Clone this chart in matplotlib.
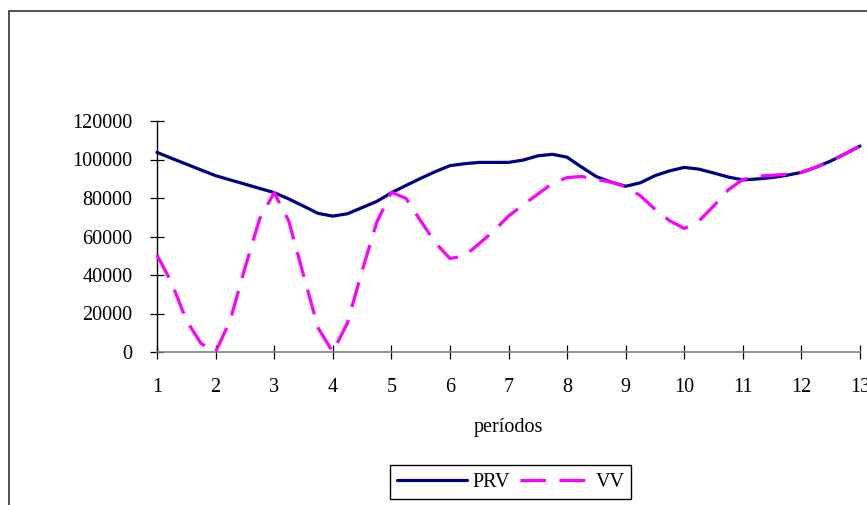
import matplotlib

matplotlib.use("Agg")

import matplotlib.pyplot as plt
from matplotlib.patches import Rectangle

# quarter-period readings (periods 1 .. 13)
periods = [1 + 0.25 * i for i in range(49)]

prv = [
    103700, 100600, 97600, 94600, 91600, 89400, 87200, 85000,
    82800, 79500, 75800, 72000, 70600, 71800, 75000, 78200,
    82700, 86500, 90200, 93700, 96800, 97800, 98500, 98500,
    98500, 99700, 101900, 102700, 101200, 96000, 91100, 88300,
    86100, 87900, 91600, 94100, 95900, 95000, 93000, 90900,
    89400, 89900, 90600, 91800, 93300, 96000, 99200, 103000,
    107000,
]

vv = [
    50400, 36000, 16500, 4500, 0, 16500, 43500, 69000,
    82800, 68000, 40000, 12500, 0, 15000, 42000, 67300,
    83000, 79800, 68200, 56800, 48600, 49800, 56300, 62900,
    70600, 76400, 82000, 87600, 90600, 91200, 89600, 88300,
    85800, 81200, 74200, 68200, 64200, 68000, 75800, 84200,
    89600, 91300, 91800, 92300, 93300, 96000, 99200, 103000,
    107000,
]

x_ticks = list(range(1, 14))
y_ticks = [0, 20000, 40000, 60000, 80000, 100000, 120000]

W, H = 867, 505

plt.rcParams["font.family"] = ["Liberation Serif", "DejaVu Serif"]

fig = plt.figure(figsize=(W / 100, H / 100), dpi=100)
ax = fig.add_axes([157 / W, (H - 352) / H, (860 - 157) / W, (352 - 121) / H])

ax.plot(periods, prv, color="#000080", linewidth=2.3, label="PRV",
        solid_capstyle="round", solid_joinstyle="round",
        clip_on=False, zorder=3)
ax.plot(periods, vv, color="#FF00FF", linewidth=2.3, label="VV",
        dashes=(8, 4.2), dash_joinstyle="round", clip_on=False, zorder=4)

ax.set_xlim(1, 13)
ax.set_ylim(0, 120000)
ax.set_xticks(x_ticks)
ax.set_yticks(y_ticks)
ax.set_xticklabels([str(t) for t in x_ticks])
ax.set_yticklabels([str(t) for t in y_ticks])

for side in ("top", "right"):
    ax.spines[side].set_visible(False)
ax.spines["left"].set_color("black")
ax.spines["left"].set_linewidth(1)
ax.spines["bottom"].set_color("#808080")
ax.spines["bottom"].set_linewidth(1.2)

ax.tick_params(axis="y", direction="inout", length=9.4, width=0.9,
               color="black", labelsize=14.5, pad=13)
ax.tick_params(axis="x", direction="inout", length=9.4, width=0.9,
               color="black", labelsize=14.5, pad=14)

ax.set_xlabel("períodos", fontsize=14.5)
ax.xaxis.set_label_coords(0.5, -0.285)

fig.legend(loc="center", bbox_to_anchor=(510.5 / W, 23 / H), ncol=2,
           fontsize=14.5, frameon=True, fancybox=False, edgecolor="black",
           framealpha=1, handlelength=3.5, handletextpad=0.25,
           columnspacing=0.5, borderpad=0.35, borderaxespad=0)
fig.legends[0].get_frame().set_linewidth(1)

# outer chart-area border (runs off the right and bottom edges)
fig.patches.append(Rectangle((9 / W, -0.1), 1.2, (H - 11) / H + 0.1,
                             transform=fig.transFigure, fill=False,
                             edgecolor="#333333", linewidth=1.2))

fig.savefig("out.png", dpi=100)
